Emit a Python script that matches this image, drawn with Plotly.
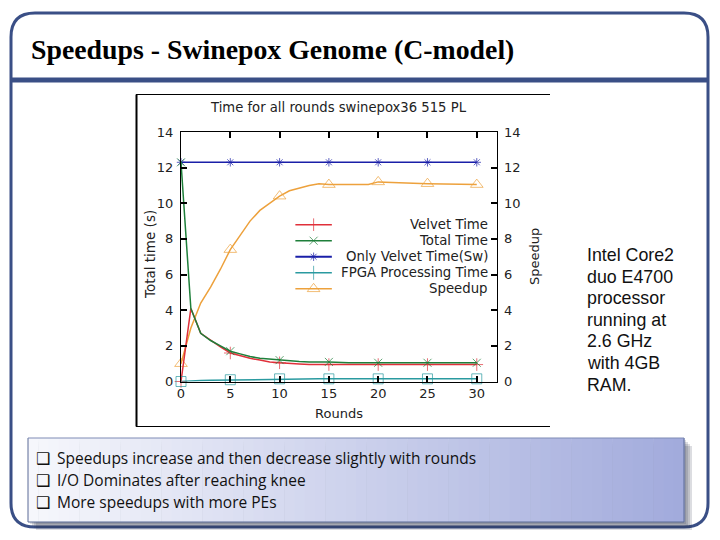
import plotly.graph_objects as go

# chart data
rounds = [0, 1, 2, 3, 4, 5, 6, 7, 8, 9, 10, 11, 12, 13, 14, 15, 17, 19, 20, 25, 30]
velvet_time = [0.0, 4.1, 2.7, 2.3, 1.95, 1.6, 1.45, 1.3, 1.2, 1.1, 1.05, 1.0, 0.98, 0.95, 0.95, 0.95, 0.95, 0.95, 0.95, 0.95, 0.95]
total_time = [12.3, 4.1, 2.7, 2.3, 2.0, 1.7, 1.55, 1.4, 1.3, 1.25, 1.2, 1.15, 1.12, 1.1, 1.1, 1.1, 1.05, 1.05, 1.05, 1.05, 1.05]
sw_time = [12.3] * len(rounds)
fpga_time = [0.0, 0.05, 0.06, 0.07, 0.08, 0.1, 0.11, 0.12, 0.13, 0.14, 0.15, 0.15, 0.15, 0.15, 0.15, 0.15, 0.15, 0.15, 0.15, 0.15, 0.15]
speedup = [1.0, 3.0, 4.4, 5.3, 6.3, 7.4, 8.2, 9.0, 9.6, 10.0, 10.4, 10.7, 10.85, 11.0, 11.1, 11.05, 11.05, 11.05, 11.2, 11.1, 11.05]

y_ticks = [0, 2, 4, 6, 8, 10, 12, 14]
x_ticks = [0, 5, 10, 15, 20, 25, 30]
series_names = ["Velvet Time", "Total Time", "Only Velvet Time(Sw)", "FPGA Processing Time", "Speedup"]
series_colors = ["#e0303a", "#1e7f3a", "#1a1fa8", "#2a9aa0", "#eda13c"]
series_symbols = ["cross-thin", "x-thin", "asterisk", "square-open", "triangle-up-open"]
series_sizes = [9, 8, 7, 10, 11]
key_symbols = ["line-ns", "x-thin", "asterisk", "line-ns", "triangle-up-open"]

title_text = "Speedups - Swinepox Genome (C-model)"
side_lines = ["Intel Core2", "duo E4700", "processor", "running at", "2.6 GHz", "with 4GB", "RAM."]
bullet_lines = ["Speedups increase and then decrease slightly with rounds",
                "I/O Dominates after reaching knee",
                "More speedups with more PEs"]

# the page keeps its 8px body margin, so the figure is that much smaller
PAGE_MARGIN = 8
W, H = 720 - 2 * PAGE_MARGIN, 540 - 2 * PAGE_MARGIN
FRAME = "#3a4f86"


def px(x):
    return (x - PAGE_MARGIN) / W


def py(y):
    return 1 - (y - PAGE_MARGIN) / H


def rounded(x0, y0, x1, y1, r):
    return (f"M {px(x0 + r)} {py(y0)} L {px(x1 - r)} {py(y0)} Q {px(x1)} {py(y0)} {px(x1)} {py(y0 + r)} "
            f"L {px(x1)} {py(y1 - r)} Q {px(x1)} {py(y1)} {px(x1 - r)} {py(y1)} "
            f"L {px(x0 + r)} {py(y1)} Q {px(x0)} {py(y1)} {px(x0)} {py(y1 - r)} "
            f"L {px(x0)} {py(y0 + r)} Q {px(x0)} {py(y0)} {px(x0 + r)} {py(y0)} Z")


def paper_rect(x0, y0, x1, y1, fill):
    return dict(type="rect", xref="paper", yref="paper", layer="below",
                x0=px(x0), x1=px(x1), y0=py(y1), y1=py(y0),
                fillcolor=fill, line=dict(width=0))


def paper_line(x0, y0, x1, y1, color, width):
    return dict(type="line", xref="paper", yref="paper", layer="below",
                x0=px(x0), x1=px(x1), y0=py(y0), y1=py(y1),
                line=dict(color=color, width=width))


def label(x, y, text, size, family, color="#111111", anchor="left", bold=False, angle=0):
    if bold:
        text = f"<b>{text}</b>"
    return dict(xref="paper", yref="paper", x=px(x), y=py(y), text=text, showarrow=False,
                xanchor=anchor, yanchor="middle", textangle=angle,
                font=dict(size=size, family=family, color=color))


fig = go.Figure()

all_series = [velvet_time, total_time, sw_time, fpga_time, speedup]
draw_order = [4, 2, 0, 1, 3]
for i in draw_order:
    sizes = [series_sizes[i] if r % 5 == 0 else 0 for r in rounds]
    fig.add_trace(go.Scatter(
        x=rounds, y=all_series[i], mode="lines+markers", name=series_names[i], cliponaxis=False,
        line=dict(color=series_colors[i], width=1.5),
        marker=dict(symbol=series_symbols[i], size=sizes, color=series_colors[i],
                    line=dict(color=series_colors[i], width=1)),
        showlegend=False,
    ))

# empty trace so the right axis gets drawn
fig.add_trace(go.Scatter(x=[], y=[], yaxis="y2", showlegend=False))

# hand drawn key, the text is right aligned so the stock legend won't do
key_x = [11.6, 13.45, 15.3]
key_y = [8.8, 7.9, 7.0, 6.1, 5.2]
for i, ky in enumerate(key_y):
    fig.add_trace(go.Scatter(
        x=key_x, y=[ky] * 3, mode="lines+markers", showlegend=False, hoverinfo="skip",
        line=dict(color=series_colors[i], width=2 if i == 2 else 1.5),
        marker=dict(symbol=key_symbols[i], size=[0, series_sizes[i], 0], color=series_colors[i],
                    line=dict(color=series_colors[i], width=1)),
    ))

axis_font = dict(size=13, family="DejaVu Sans", color="#222222")
tick_style = dict(ticks="inside", ticklen=6, tickwidth=1.5, tickcolor="black", showline=True,
                  linecolor="black", linewidth=1, showgrid=False, zeroline=False, tickfont=axis_font)
fig.update_layout(
    template="none",
    width=W, height=H, margin=dict(l=0, r=0, t=0, b=0),
    paper_bgcolor="white", plot_bgcolor="rgba(0,0,0,0)", showlegend=False,
    xaxis=dict(domain=[px(181), px(496.5)], range=[0, 32], tickvals=x_ticks, mirror="ticks", **tick_style),
    yaxis=dict(domain=[py(381.5), py(132)], range=[0, 14], tickvals=y_ticks, ticklabelstandoff=4, **tick_style),
    yaxis2=dict(overlaying="y", side="right", range=[0, 14], tickvals=y_ticks, ticklabelstandoff=4, **tick_style),
)

shapes = []
# slide frame
shapes.append(dict(type="path", xref="paper", yref="paper", layer="below", path=rounded(11, 13, 708, 527, 24),
                   line=dict(color=FRAME, width=3), fillcolor="white"))
shapes.append(paper_line(11, 80, 708, 80, FRAME, 5))
# soft box shadow then a stepped gradient
for off in (8, 6, 4, 2):
    shapes.append(paper_rect(28 + off, 438 + off, 684 + off, 522 + off, "rgba(40,45,70,0.16)"))
steps = 64
for s in range(steps):
    t = s / (steps - 1)
    r = round(246 + (162 - 246) * t)
    g = round(247 + (171 - 247) * t)
    b = round(252 + (220 - 252) * t)
    x0 = 28 + (684 - 28) * s / steps
    x1 = 28 + (684 - 28) * (s + 1) / steps + 0.5
    shapes.append(paper_rect(x0, 438, x1, 522, f"rgb({r},{g},{b})"))
shapes.append(paper_line(28, 522, 684, 522, "#5a6a96", 1))
shapes.append(paper_line(28, 438, 28, 522, "#5a6a96", 1))
shapes.append(paper_line(684, 438, 684, 522, "#5a6a96", 1))
shapes.append(paper_line(28, 438, 684, 438, "#7f8bb5", 1))
# black border left around the pasted chart
shapes.append(paper_line(136.5, 94.5, 136.5, 426.5, "black", 2))
shapes.append(paper_line(136, 94.5, 550, 94.5, "black", 1))
shapes.append(paper_line(136, 426.5, 550, 426.5, "black", 1))
fig.update_layout(shapes=shapes)

notes = [
    label(29, 50, title_text, 27.8, "Liberation Serif", "#000000", bold=True),
    label(338, 108, "Time for all rounds swinepox36 515 PL", 13.2, "DejaVu Sans", "#222222", anchor="center"),
    label(150, 255, "Total time (s)", 13.5, "DejaVu Sans", "#222222", anchor="center", angle=-90),
    label(534, 257, "Speedup", 13, "DejaVu Sans", "#222222", anchor="center", angle=-90),
    label(339, 413, "Rounds", 13, "DejaVu Sans", "#222222", anchor="center"),
]
for ky, name in zip(key_y, series_names):
    notes.append(dict(xref="paper", yref="y", x=px(490), y=ky, text=name, showarrow=False, xanchor="right",
                      yanchor="middle", font=dict(size=13.3, family="DejaVu Sans", color="#222222")))
for i, line in enumerate(side_lines):
    notes.append(label(585, 255 + i * 21.6, line, 17.8, "Liberation Sans", "#111111"))
for i, line in enumerate(bullet_lines):
    notes.append(label(34, 458 + i * 22, "\u2751", 16, "DejaVu Sans", "#111111"))
    notes.append(label(55, 458 + i * 22, line, 15.5, "Open Sans", "#111111"))
fig.update_layout(annotations=notes)

fig.write_html("out.html")
